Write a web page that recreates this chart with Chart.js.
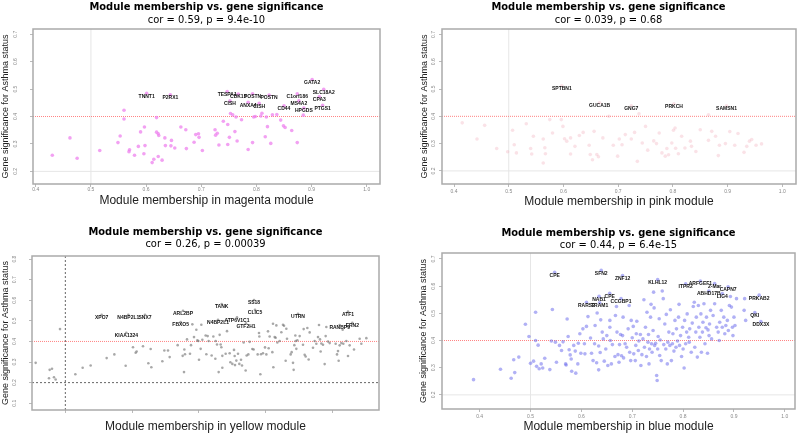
<!DOCTYPE html>
<html>
<head>
<meta charset="utf-8">
<script src="https://cdn.jsdelivr.net/npm/chart.js@4.4.1/dist/chart.umd.min.js"></script>
<style>
  body { margin: 0; background: #fff; }
  #wrap { position: relative; width: 800px; height: 434px; }
  .cell { position: absolute; width: 400px; height: 217px; }
</style>
</head>
<body>
<div id="wrap">
  <div class="cell" style="left:0;top:0"><canvas id="c1" width="400" height="217"></canvas></div>
  <div class="cell" style="left:400px;top:0"><canvas id="c2" width="400" height="217"></canvas></div>
  <div class="cell" style="left:0;top:217px"><canvas id="c3" width="400" height="217"></canvas></div>
  <div class="cell" style="left:400px;top:217px"><canvas id="c4" width="400" height="217"></canvas></div>
</div>
<script>
// ---- data (module membership, gene significance) ----
const xTicksA = [0.4, 0.5, 0.6, 0.7, 0.8, 0.9, 1.0];
const xTicksYellow = [0.5, 0.6, 0.7, 0.8, 0.9];
const yTicksA = [0.2, 0.3, 0.4, 0.5, 0.6, 0.7];
const yTicksYellow = [0.1, 0.2, 0.3, 0.4, 0.5, 0.6, 0.7, 0.8];

const magentaPts = [[0.430,0.259],[0.462,0.322],[0.475,0.248],[0.516,0.276],[0.549,0.305],[0.553,0.329],[0.560,0.423],[0.560,0.391],[0.569,0.272],[0.570,0.279],[0.579,0.259],[0.586,0.291],[0.590,0.344],[0.596,0.264],[0.597,0.362],[0.598,0.294],[0.619,0.396],[0.619,0.343],[0.622,0.337],[0.623,0.331],[0.614,0.244],[0.611,0.232],[0.622,0.254],[0.629,0.241],[0.634,0.322],[0.635,0.294],[0.645,0.293],[0.646,0.313],[0.652,0.285],[0.663,0.362],[0.672,0.352],[0.673,0.283],[0.687,0.306],[0.690,0.334],[0.695,0.337],[0.696,0.324],[0.702,0.276],[0.725,0.352],[0.726,0.332],[0.729,0.339],[0.732,0.296],[0.740,0.383],[0.748,0.371],[0.748,0.298],[0.751,0.324],[0.753,0.411],[0.757,0.406],[0.761,0.345],[0.763,0.398],[0.765,0.311],[0.773,0.388],[0.785,0.280],[0.793,0.305],[0.795,0.398],[0.798,0.400],[0.808,0.402],[0.810,0.412],[0.816,0.326],[0.818,0.398],[0.820,0.363],[0.826,0.302],[0.829,0.406],[0.837,0.407],[0.844,0.387],[0.849,0.366],[0.852,0.360],[0.864,0.349],[0.874,0.305],[0.885,0.405]];
const magentaGenes = ["TNNT1","P2RX1","TESPA1","CDK15","CISH","POSTN","ANXA4","CISH","POSTN","CD44","C1orf186","MS4A2","HPGDS","GATA2","SLC18A2","CPA3","PTGS1"];
const magentaGenePts = [[0.601,0.485],[0.644,0.479],[0.747,0.491],[0.767,0.482],[0.752,0.457],[0.793,0.483],[0.785,0.452],[0.805,0.448],[0.823,0.478],[0.850,0.439],[0.874,0.483],[0.877,0.457],[0.886,0.431],[0.901,0.535],[0.922,0.499],[0.914,0.472],[0.920,0.441]];

const pinkPts = [[0.415,0.376],[0.442,0.317],[0.456,0.367],[0.478,0.282],[0.498,0.270],[0.507,0.349],[0.510,0.296],[0.514,0.266],[0.532,0.373],[0.540,0.282],[0.542,0.262],[0.545,0.327],[0.563,0.317],[0.563,0.229],[0.567,0.263],[0.566,0.285],[0.575,0.388],[0.580,0.339],[0.596,0.388],[0.599,0.363],[0.602,0.318],[0.606,0.309],[0.613,0.321],[0.613,0.262],[0.621,0.290],[0.629,0.330],[0.636,0.341],[0.647,0.294],[0.649,0.260],[0.653,0.241],[0.656,0.345],[0.661,0.260],[0.664,0.252],[0.672,0.321],[0.683,0.400],[0.691,0.294],[0.699,0.254],[0.702,0.317],[0.707,0.296],[0.713,0.333],[0.724,0.317],[0.730,0.341],[0.735,0.235],[0.738,0.409],[0.744,0.302],[0.750,0.363],[0.754,0.276],[0.765,0.310],[0.770,0.300],[0.775,0.339],[0.780,0.266],[0.786,0.254],[0.789,0.282],[0.792,0.259],[0.798,0.302],[0.801,0.349],[0.804,0.357],[0.805,0.283],[0.810,0.263],[0.816,0.327],[0.822,0.284],[0.832,0.309],[0.834,0.290],[0.842,0.271],[0.850,0.351],[0.865,0.312],[0.865,0.406],[0.871,0.345],[0.878,0.327],[0.883,0.256],[0.885,0.294],[0.896,0.300],[0.904,0.344],[0.913,0.294],[0.919,0.337],[0.930,0.268],[0.935,0.290],[0.940,0.309],[0.944,0.315],[0.952,0.294],[0.962,0.299]];
const pinkGenes = ["SPTBN1","GUCA1B","GNG7","PRKCH","SAMSN1"];
const pinkGenePts = [[0.597,0.512],[0.666,0.450],[0.724,0.439],[0.802,0.446],[0.898,0.439]];

const yellowPts = [[0.4555,0.296],[0.4755,0.221],[0.4765,0.262],[0.480,0.267],[0.483,0.226],[0.4855,0.215],[0.492,0.460],[0.515,0.241],[0.526,0.272],[0.538,0.283],[0.562,0.319],[0.5735,0.337],[0.5905,0.282],[0.6015,0.372],[0.6055,0.345],[0.607,0.351],[0.6165,0.377],[0.6245,0.294],[0.628,0.363],[0.629,0.275],[0.6455,0.304],[0.6485,0.356],[0.654,0.356],[0.6565,0.324],[0.6685,0.382],[0.676,0.330],[0.678,0.251],[0.6785,0.361],[0.6795,0.338],[0.6825,0.410],[0.687,0.340],[0.6885,0.382],[0.6905,0.483],[0.693,0.421],[0.6965,0.457],[0.698,0.405],[0.6995,0.402],[0.7005,0.311],[0.703,0.364],[0.704,0.481],[0.7055,0.408],[0.7105,0.429],[0.7115,0.338],[0.7135,0.426],[0.715,0.402],[0.7195,0.332],[0.722,0.424],[0.725,0.316],[0.7255,0.402],[0.7275,0.385],[0.730,0.251],[0.7315,0.432],[0.733,0.385],[0.734,0.372],[0.7355,0.330],[0.7355,0.272],[0.7405,0.340],[0.7425,0.450],[0.7465,0.343],[0.7475,0.299],[0.7505,0.291],[0.753,0.359],[0.754,0.329],[0.7545,0.285],[0.7565,0.307],[0.759,0.340],[0.761,0.291],[0.7635,0.311],[0.765,0.283],[0.7675,0.395],[0.7705,0.259],[0.772,0.332],[0.7745,0.337],[0.7765,0.398],[0.7805,0.363],[0.7825,0.361],[0.7885,0.337],[0.7905,0.441],[0.791,0.424],[0.7925,0.241],[0.7935,0.338],[0.7965,0.343],[0.7995,0.371],[0.8015,0.337],[0.804,0.449],[0.805,0.367],[0.8065,0.424],[0.8105,0.348],[0.8115,0.486],[0.812,0.275],[0.814,0.421],[0.8155,0.418],[0.8165,0.478],[0.818,0.395],[0.8215,0.402],[0.824,0.445],[0.8265,0.481],[0.828,0.476],[0.8305,0.306],[0.8315,0.462],[0.8325,0.413],[0.838,0.337],[0.8395,0.348],[0.8415,0.296],[0.8425,0.262],[0.8435,0.382],[0.845,0.429],[0.8455,0.402],[0.8465,0.364],[0.848,0.406],[0.8515,0.426],[0.8565,0.384],[0.8575,0.460],[0.859,0.335],[0.8605,0.327],[0.863,0.465],[0.865,0.312],[0.8665,0.444],[0.8715,0.369],[0.874,0.402],[0.8765,0.389],[0.879,0.421],[0.8805,0.480],[0.882,0.410],[0.883,0.351],[0.884,0.390],[0.8865,0.384],[0.889,0.290],[0.8905,0.426],[0.8915,0.470],[0.894,0.400],[0.8965,0.392],[0.9055,0.389],[0.9075,0.337],[0.909,0.353],[0.910,0.306],[0.9115,0.381],[0.914,0.392],[0.916,0.457],[0.917,0.389],[0.9215,0.402],[0.924,0.329],[0.9265,0.381],[0.933,0.361],[0.9415,0.413],[0.944,0.389],[0.9515,0.416]];
const yellowGenes = ["XPO7","N4BP2L1","SNX7","KIAA1324","ARL2BP","FBXO5","TANK","N4BP2L1","ATP6V1C1","SS18","CLIC5","GTF2H1","UTRN","ATF1","RANBP9","ERN2"];
const yellowGenePts = [[0.5545,0.530],[0.5945,0.530],[0.6195,0.530],[0.5915,0.442],[0.6765,0.549],[0.673,0.494],[0.7345,0.582],[0.729,0.505],[0.7575,0.517],[0.783,0.601],[0.7845,0.554],[0.771,0.488],[0.849,0.534],[0.924,0.545],[0.9115,0.480],[0.9305,0.491]];

const bluePts = [[0.388,0.256],[0.441,0.294],[0.462,0.261],[0.467,0.329],[0.469,0.282],[0.477,0.339],[0.490,0.460],[0.497,0.415],[0.500,0.316],[0.506,0.324],[0.510,0.504],[0.510,0.400],[0.512,0.305],[0.515,0.383],[0.517,0.296],[0.521,0.314],[0.524,0.299],[0.528,0.335],[0.538,0.293],[0.541,0.398],[0.543,0.514],[0.549,0.394],[0.551,0.320],[0.557,0.382],[0.561,0.363],[0.564,0.395],[0.569,0.314],[0.570,0.310],[0.572,0.479],[0.574,0.415],[0.576,0.366],[0.578,0.347],[0.580,0.332],[0.581,0.287],[0.585,0.382],[0.588,0.361],[0.589,0.280],[0.593,0.314],[0.594,0.390],[0.597,0.425],[0.599,0.353],[0.603,0.443],[0.606,0.388],[0.607,0.351],[0.610,0.452],[0.613,0.488],[0.618,0.409],[0.620,0.353],[0.623,0.326],[0.626,0.388],[0.627,0.455],[0.630,0.318],[0.631,0.501],[0.634,0.292],[0.634,0.380],[0.637,0.356],[0.638,0.476],[0.641,0.431],[0.643,0.406],[0.645,0.324],[0.648,0.369],[0.650,0.418],[0.652,0.308],[0.656,0.474],[0.656,0.449],[0.657,0.400],[0.659,0.314],[0.661,0.385],[0.666,0.341],[0.667,0.492],[0.669,0.525],[0.670,0.431],[0.672,0.348],[0.674,0.320],[0.675,0.385],[0.677,0.422],[0.679,0.344],[0.681,0.418],[0.682,0.486],[0.683,0.336],[0.686,0.388],[0.689,0.375],[0.692,0.443],[0.694,0.529],[0.695,0.357],[0.697,0.326],[0.698,0.474],[0.700,0.410],[0.702,0.452],[0.703,0.351],[0.706,0.326],[0.707,0.382],[0.708,0.425],[0.709,0.471],[0.712,0.363],[0.713,0.398],[0.716,0.422],[0.717,0.308],[0.719,0.348],[0.721,0.406],[0.723,0.550],[0.724,0.375],[0.726,0.449],[0.728,0.341],[0.729,0.504],[0.731,0.394],[0.732,0.422],[0.733,0.314],[0.734,0.369],[0.736,0.486],[0.737,0.533],[0.738,0.388],[0.739,0.357],[0.741,0.437],[0.742,0.578],[0.743,0.520],[0.744,0.382],[0.746,0.390],[0.748,0.271],[0.749,0.253],[0.750,0.369],[0.751,0.415],[0.753,0.480],[0.754,0.345],[0.755,0.402],[0.757,0.326],[0.759,0.582],[0.761,0.554],[0.762,0.385],[0.764,0.461],[0.766,0.369],[0.767,0.496],[0.769,0.314],[0.770,0.394],[0.772,0.431],[0.774,0.382],[0.775,0.513],[0.777,0.326],[0.779,0.388],[0.780,0.425],[0.782,0.361],[0.784,0.474],[0.786,0.375],[0.787,0.443],[0.789,0.398],[0.791,0.486],[0.792,0.533],[0.793,0.382],[0.795,0.418],[0.797,0.341],[0.799,0.449],[0.800,0.369],[0.802,0.299],[0.803,0.474],[0.805,0.388],[0.807,0.431],[0.808,0.498],[0.811,0.412],[0.812,0.394],[0.813,0.443],[0.816,0.357],[0.818,0.464],[0.820,0.525],[0.822,0.541],[0.823,0.375],[0.825,0.431],[0.826,0.486],[0.828,0.339],[0.830,0.529],[0.831,0.449],[0.833,0.412],[0.835,0.498],[0.836,0.357],[0.838,0.431],[0.839,0.467],[0.841,0.535],[0.843,0.388],[0.845,0.447],[0.846,0.486],[0.848,0.353],[0.849,0.439],[0.851,0.418],[0.852,0.461],[0.854,0.511],[0.856,0.406],[0.859,0.492],[0.862,0.535],[0.866,0.449],[0.869,0.431],[0.871,0.400],[0.872,0.467],[0.875,0.511],[0.877,0.449],[0.880,0.486],[0.882,0.425],[0.884,0.455],[0.887,0.474],[0.889,0.437],[0.891,0.529],[0.893,0.562],[0.895,0.523],[0.897,0.449],[0.898,0.418],[0.900,0.486],[0.902,0.455],[0.905,0.554],[0.920,0.511],[0.921,0.554],[0.923,0.474]];
const blueGenes = ["CPE","SFN2","ZNF12","KLHL12","ITPR2","ARFGEF1","2-Mar","CAPN7","ABHD17B","LIG4","PRKAB2","QKI","DDX3X","NAB1","CPE","CCGBP1","RARS2","TRAM1"];
const blueGenePts = [[0.5475,0.651],[0.639,0.658],[0.681,0.639],[0.750,0.624],[0.805,0.609],[0.834,0.619],[0.862,0.610],[0.8885,0.598],[0.8505,0.582],[0.877,0.573],[0.9495,0.567],[0.941,0.503],[0.953,0.470],[0.6348,0.563],[0.6557,0.574],[0.678,0.554],[0.610,0.541],[0.636,0.539]];

const corText = ["cor = 0.59, p = 9.4e-10", "cor = 0.039, p = 0.68", "cor = 0.26, p = 0.00039", "cor = 0.44, p = 6.4e-15"];
const moduleNames = ["magenta", "pink", "yellow", "blue"];

// ---- drawing ----
Chart.defaults.font.family = "'Liberation Sans', Arial, sans-serif";
Chart.defaults.animation = false;

const narrow = "'Liberation Sans Narrow', 'DejaVu Sans Condensed', 'Liberation Sans', Arial, sans-serif";

// box, guide lines, rotated y tick labels and gene labels
const decor = {
  id: 'decor',
  beforeDatasetsDraw(chart, args, o) {
    const {ctx, chartArea: a, scales: {x, y}} = chart;
    ctx.save();
    ctx.lineWidth = 1;
    ctx.strokeStyle = o.guideColor;
    ctx.setLineDash(o.guideDash);
    const vx = x.getPixelForValue(0.5);
    ctx.beginPath(); ctx.moveTo(vx, a.top); ctx.lineTo(vx, a.bottom); ctx.stroke();
    const gy = y.getPixelForValue(0.2);
    ctx.beginPath(); ctx.moveTo(a.left, gy); ctx.lineTo(a.right, gy); ctx.stroke();
    ctx.strokeStyle = 'rgba(255,90,90,0.75)';
    ctx.setLineDash([1, 1]);
    const ry = y.getPixelForValue(0.4);
    ctx.beginPath(); ctx.moveTo(a.left, ry); ctx.lineTo(a.right, ry); ctx.stroke();
    ctx.restore();
  },
  afterDatasetsDraw(chart, args, o) {
    const {ctx, chartArea: a, scales: {x, y}} = chart;
    ctx.save();
    ctx.font = "bold 5px 'Liberation Sans', Arial, sans-serif";
    ctx.fillStyle = '#111';
    ctx.textAlign = 'center';
    ctx.textBaseline = 'middle';
    o.genes.forEach((g, i) => {
      ctx.fillText(g, x.getPixelForValue(o.genePts[i][0]), y.getPixelForValue(o.genePts[i][1]) + 3);
    });

    // y tick labels, rotated like R's las = 0
    ctx.font = "5px 'Liberation Sans', Arial, sans-serif";
    ctx.fillStyle = '#888';
    y.ticks.forEach(t => {
      ctx.save();
      ctx.translate(o.yLabX, y.getPixelForValue(t.value));
      ctx.rotate(-Math.PI / 2);
      ctx.fillText(t.value.toFixed(1), 0, 0);
      ctx.restore();
    });

    ctx.strokeStyle = '#aaa';
    ctx.lineWidth = 1.5;
    ctx.strokeRect(a.left, a.top, a.right - a.left, a.bottom - a.top);
    ctx.restore();
  }
};

const panels = [
  { id: 'c1', pts: magentaPts, genes: magentaGenes, genePts: magentaGenePts, color: 'rgba(238,130,238,0.75)', r: 1.8,
    xr: [0.395, 1.024], yr: [0.154, 0.719], xt: xTicksA, yt: yTicksA,
    area: {l: 33, r: 380, b: 184}, padL: 0, tPad: [1.2, 0, 2.8, 3], full: false,
    yLabX: 15.7, xTickPad: 0, xTitlePad: 8.8, guideColor: '#e6e6e6', guideDash: [] },
  { id: 'c2', pts: pinkPts, genes: pinkGenes, genePts: pinkGenePts, color: 'rgba(240,160,175,0.3)', r: 1.8,
    xr: [0.378, 1.025], yr: [0.152, 0.72], xt: xTicksA, yt: yTicksA,
    area: {l: 42, r: 398, b: 184}, padL: 19, tPad: [1.8, 0, 1.7, 3.5], full: true,
    yLabX: 34, xTickPad: 2, xTitlePad: 8.1, guideColor: '#e6e6e6', guideDash: [] },
  { id: 'c3', pts: yellowPts, genes: yellowGenes, genePts: yellowGenePts, color: 'rgba(110,110,110,0.6)', r: 1.3,
    xr: [0.45, 0.9705], yr: [0.067, 0.815], xt: xTicksYellow, yt: yTicksYellow,
    area: {l: 32, r: 379, b: 193}, padL: 0, tPad: [9.5, 0, 1.3, 6.2], full: false,
    yLabX: 15, xTickPad: -18.4, xTitlePad: 0.5, guideColor: '#666', guideDash: [2, 2] },
  { id: 'c4', pts: bluePts, genes: blueGenes, genePts: blueGenePts, color: 'rgba(100,100,235,0.5)', r: 1.8,
    xr: [0.326, 1.02], yr: [0.148, 0.722], xt: xTicksA, yt: yTicksA,
    area: {l: 42, r: 395, b: 192}, padL: 18.6, tPad: [10.8, 0, 1, 2.2], full: false,
    yLabX: 33.3, xTickPad: 1.3, xTitlePad: 0.5, guideColor: '#e6e6e6', guideDash: [] }
];

panels.forEach((p, k) => {
  const toXY = arr => arr.map(v => ({x: v[0], y: v[1]}));
  new Chart(document.getElementById(p.id), {
    type: 'scatter',
    data: {
      datasets: [
        { data: toXY(p.pts), backgroundColor: p.color, borderWidth: 0, pointRadius: p.r },
        { data: toXY(p.genePts), backgroundColor: p.color, borderWidth: 0, pointRadius: p.r }
      ]
    },
    plugins: [decor],
    options: {
      responsive: false,
      devicePixelRatio: 1,
      layout: { padding: { left: p.padL, right: 400 - p.area.r, top: 0, bottom: 0 } },
      plugins: {
        legend: { display: false },
        tooltip: { enabled: false },
        title: {
          display: true, fullSize: p.full, text: 'Module membership vs. gene significance', color: '#000',
          font: { family: narrow, size: 11, weight: 'bold', lineHeight: 1.0 },
          padding: { top: p.tPad[0], bottom: p.tPad[1] }
        },
        subtitle: {
          display: true, fullSize: p.full, text: corText[k], color: '#000',
          font: { family: narrow, size: 11, lineHeight: 1.0 },
          padding: { top: p.tPad[2], bottom: p.tPad[3] }
        },
        decor: { genes: p.genes, genePts: p.genePts, guideColor: p.guideColor, guideDash: p.guideDash, yLabX: p.yLabX }
      },
      scales: {
        x: {
          type: 'linear', min: p.xr[0], max: p.xr[1],
          afterBuildTicks: s => { s.ticks = p.xt.map(v => ({value: v})); },
          afterFit: s => { s.height = 217 - p.area.b; },
          border: { display: false },
          grid: { drawOnChartArea: false, tickLength: 3, color: '#bbb' },
          ticks: { font: { size: 5 }, color: '#888', padding: p.xTickPad, maxRotation: 0, autoSkip: false,
                   callback: v => v.toFixed(1) },
          title: { display: true, text: 'Module membership in ' + moduleNames[k] + ' module', color: '#222',
                   font: { size: 12 }, padding: { top: 0, bottom: p.xTitlePad } }
        },
        y: {
          type: 'linear', min: p.yr[0], max: p.yr[1],
          afterBuildTicks: s => { s.ticks = p.yt.map(v => ({value: v})); },
          afterFit: s => { s.width = p.area.l - p.padL; },
          border: { display: false },
          grid: { drawOnChartArea: false, tickLength: 3, color: '#bbb' },
          ticks: { display: false },
          title: { display: true, text: 'Gene significance for Asthma status', color: '#222',
                   font: { size: 9 }, padding: { top: 0, bottom: 0 } }
        }
      }
    }
  });
});
</script>
</body>
</html>
